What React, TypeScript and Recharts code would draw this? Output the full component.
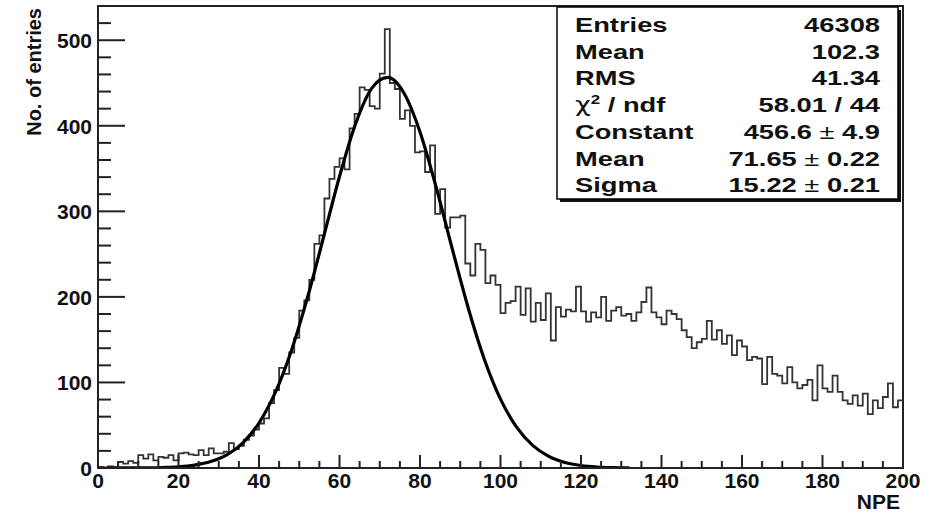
import { ComposedChart, Line, XAxis, YAxis, ReferenceArea } from "recharts";

// histogram: 160 bins over 0..200 NPE
const BIN_WIDTH = 1.25;
const counts = [
  1, 0, 2, 1, 7, 5, 8, 6,
  15, 11, 16, 9, 13, 12, 15, 9,
  17, 18, 16, 15, 21, 15, 23, 17,
  17, 19, 29, 22, 26, 33, 38, 45,
  52, 58, 76, 91, 117, 110, 135, 152,
  184, 196, 220, 262, 272, 315, 338, 352,
  362, 349, 397, 414, 445, 442, 423, 420,
  461, 513, 450, 443, 408, 418, 400, 369,
  370, 346, 377, 297, 326, 281, 293, 293,
  295, 239, 225, 262, 255, 216, 225, 214,
  181, 193, 195, 212, 179, 210, 171, 193,
  173, 204, 149, 188, 177, 185, 183, 212,
  183, 171, 182, 176, 200, 172, 184, 188,
  178, 180, 172, 182, 194, 211, 182, 176,
  168, 184, 180, 174, 161, 153, 140, 147,
  151, 172, 150, 161, 145, 155, 132, 149,
  142, 126, 130, 128, 98, 130, 110, 108,
  99, 118, 100, 93, 97, 103, 79, 120,
  93, 89, 108, 89, 79, 75, 85, 73,
  87, 63, 79, 70, 83, 99, 71, 79,
];

const fitX = [
  0, 4, 8, 12, 16, 20, 24, 28, 32, 36, 40, 44, 48, 52, 56, 60, 64, 68, 72,
  76, 80, 84, 88, 92, 96, 100, 104, 108, 112, 116, 120, 124, 128, 132,
];
const fitY = [
  0.01, 0.02, 0.07, 0.2, 0.6, 1.4, 3.4, 7.5, 15.3, 29.4, 52.6, 87.7, 136.5,
  198.5, 269.1, 340.7, 402.4, 443.7, 456.5, 438.3, 392.8, 328.5, 256.4, 186.8,
  126.9, 80.5, 47.7, 26.4, 13.6, 6.5, 2.9, 1.2, 0.5, 0.2,
];

const xTicks = [
  0, 5, 10, 15, 20, 25, 30, 35, 40, 45, 50, 55, 60, 65, 70, 75, 80, 85, 90, 95,
  100, 105, 110, 115, 120, 125, 130, 135, 140, 145, 150, 155, 160, 165, 170,
  175, 180, 185, 190, 195, 200,
];
const yTicks = [
  0, 20, 40, 60, 80, 100, 120, 140, 160, 180, 200, 220, 240, 260, 280, 300,
  320, 340, 360, 380, 400, 420, 440, 460, 480, 500, 520,
];

const statLabels = ["Entries", "Mean", "RMS", "chi2", "Constant", "Mean", "Sigma"];
const statValues = ["46308", "102.3", "41.34", "58.01 / 44", "456.6|4.9", "71.65|0.22", "15.22|0.21"];

const FONT = "'Liberation Sans', Arial, sans-serif";
const INK = "#222";

const histData = counts
  .map((n, i) => ({ x: i * BIN_WIDTH, y: n }))
  .concat([{ x: 200, y: counts[counts.length - 1] }]);
const fitData = fitX.map((x, i) => ({ x, y: fitY[i] }));

function XTick({ x, y, payload }: any) {
  const major = payload.value % 20 === 0;
  return (
    <g>
      <line x1={x} x2={x} y1={y} y2={y - (major ? 13 : 7)} stroke={INK} strokeWidth={2} />
      {major && (
        <text x={x} y={y + 20} textAnchor="middle" fontFamily={FONT} fontWeight="bold" fontSize={21} fill="#111">
          {payload.value}
        </text>
      )}
    </g>
  );
}

function YTick({ x, y, payload }: any) {
  const major = payload.value % 100 === 0;
  return (
    <g>
      <line x1={x} x2={x + (major ? 27 : 13)} y1={y} y2={y} stroke={INK} strokeWidth={2} />
      {major && (
        <text x={x - 6} y={y + 8} textAnchor="end" fontFamily={FONT} fontWeight="bold" fontSize={21} fill="#111">
          {payload.value}
        </text>
      )}
    </g>
  );
}

function StatValue({ v }: { v: string }) {
  if (v.includes("|")) {
    const [a, b] = v.split("|");
    return (
      <>
        {a}
        <tspan fontWeight="normal"> ± </tspan>
        {b}
      </>
    );
  }
  return <>{v}</>;
}

function StatLabel({ v }: { v: string }) {
  if (v === "chi2") {
    return (
      <>
        <tspan fontWeight="normal" fontFamily="'DejaVu Sans', sans-serif">χ</tspan>
        <tspan dy={-8} fontSize={13}>2</tspan>
        <tspan dy={8}> / ndf</tspan>
      </>
    );
  }
  return <>{v}</>;
}

export default function App() {
  return (
    <div style={{ position: "absolute", left: 0, top: 0, width: 941, height: 513, background: "#fff" }}>
      <ComposedChart width={941} height={513} margin={{ top: 6, right: 38, bottom: 5, left: 38 }}>
        <XAxis
          dataKey="x"
          type="number"
          domain={[0, 200]}
          ticks={xTicks}
          interval={0}
          height={40}
          tickSize={0}
          tickMargin={0}
          tickLine={false}
          axisLine={{ stroke: INK, strokeWidth: 2 }}
          tick={<XTick />}
        />
        <YAxis
          type="number"
          domain={[0, 540]}
          ticks={yTicks}
          interval={0}
          width={60}
          tickSize={0}
          tickMargin={0}
          tickLine={false}
          axisLine={{ stroke: INK, strokeWidth: 2 }}
          tick={<YTick />}
          allowDataOverflow
        />
        <ReferenceArea
          x1={0}
          x2={200}
          y1={0}
          y2={540}
          fill="none"
          fillOpacity={0}
          stroke={INK}
          strokeWidth={2}
          ifOverflow="visible"
        />
        <Line
          data={histData}
          dataKey="y"
          type="stepAfter"
          stroke="#333"
          strokeWidth={1.8}
          dot={false}
          isAnimationActive={false}
        />
        <Line
          data={fitData}
          dataKey="y"
          type="monotone"
          stroke="#000"
          strokeWidth={3.2}
          dot={false}
          isAnimationActive={false}
        />
      </ComposedChart>

      <svg
        width={941}
        height={513}
        style={{ position: "absolute", left: 0, top: 0, pointerEvents: "none" }}
        fontFamily={FONT}
      >
        <text transform="translate(41,8) rotate(-90)" textAnchor="end" fontSize={20} fontWeight="bold" fill="#111">
          No. of entries
        </text>
        <text x={900} y={509} textAnchor="end" fontSize={21} fontWeight="bold" fill="#111">
          NPE
        </text>

        <rect x={560} y={10} width={341} height={192} fill="#111" />
        <rect x={557} y={7} width={341} height={192} fill="#fff" stroke="#000" strokeWidth={1.5} />
        {statLabels.map((lab, i) => (
          <text
            key={"l" + i}
            transform={`translate(575,${32 + i * 26.7}) scale(1.3,1)`}
            fontSize={21}
            fontWeight="bold"
            fill="#111"
          >
            <StatLabel v={lab} />
          </text>
        ))}
        {statValues.map((val, i) => (
          <text
            key={"v" + i}
            transform={`translate(880,${32 + i * 26.7}) scale(1.3,1)`}
            textAnchor="end"
            fontSize={21}
            fontWeight="bold"
            fill="#111"
          >
            <StatValue v={val} />
          </text>
        ))}
      </svg>
    </div>
  );
}
